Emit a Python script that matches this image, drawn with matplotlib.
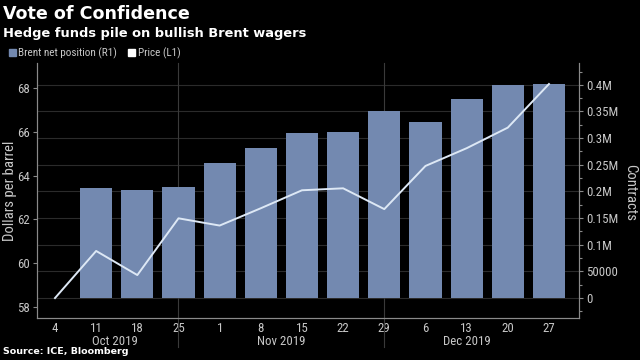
import numpy as np
import matplotlib
matplotlib.use("Agg")
import matplotlib.pyplot as plt
from matplotlib.patches import Patch
from matplotlib.font_manager import FontProperties
from matplotlib.ticker import FixedLocator, FuncFormatter

# weekly data, Oct 4 - Dec 27 2019
days = ['4', '11', '18', '25', '1', '8', '15', '22', '29', '6', '13', '20', '27']
months = ['Oct 2019', 'Nov 2019', 'Dec 2019']
month_pos = [1.45, 5.5, 10.0]
separators = [3, 8]
price = [58.41, 60.56, 59.46, 62.05, 61.72, 62.51, 63.33, 63.42, 62.47, 64.44, 65.25, 66.19, 68.18]
net_pos = [np.nan, 206000, 203000, 208000, 254000, 282000, 310500, 311000,
           350000, 331000, 373000, 399000, 402000]

BG = 'black'
BAR = '#7389b0'
LINE = '#dde8f5'
TXT = '#c8c8c8'
GRID = '#2b2b2b'
SPINE = '#8a8a8a'
NARROW = ['Roboto Condensed', 'DejaVu Sans']

def nfont(size):
    return FontProperties(family=NARROW, size=size)

fig = plt.figure(figsize=(6.4, 3.6), dpi=100, facecolor=BG)
ax_r = fig.add_axes([37/640, 1-318/360, (579-37)/640, (318-63)/360])
ax_r.set_facecolor(BG)
ax_l = ax_r.twinx()
x = np.arange(len(days))

# bars -> right axis (R1)
ax_r.bar(x, net_pos, width=0.78, color=BAR, zorder=2)
ax_r.set_ylim(-37600, 441000)
ax_r.set_yticks(np.arange(0, 400001, 50000))
ax_r.yaxis.set_minor_locator(FixedLocator(np.arange(-25000, 440000, 50000)))

def fmt_r(v, pos):
    if v == 0:
        return '0'
    if v == 50000:
        return '50000'
    return ('%g' % (v / 1e6)) + 'M'

ax_r.yaxis.set_major_formatter(FuncFormatter(fmt_r))
ax_r.grid(axis='y', color=GRID, linewidth=0.8, zorder=0)
ax_r.set_axisbelow(True)

# price -> left axis (L1)
ax_l.plot(x, price, color=LINE, linewidth=1.4, zorder=3)
ax_l.set_ylim(57.5, 69.14)
ax_l.set_yticks([58, 60, 62, 64, 66, 68])

# swap sides after twinx
ax_r.yaxis.tick_right()
ax_l.yaxis.tick_left()

# axis titles
fig.text(10/640, 1-191/360, 'Dollars per barrel', rotation=90, ha='center', va='center',
         color=TXT, fontproperties=nfont(10.6))
fig.text(630/640, 1-192/360, 'Contracts', rotation=270, ha='center', va='center',
         color=TXT, fontproperties=nfont(10.6))

ax_r.set_xlim(-0.437, 12.73)
ax_r.set_xticks(x)
ax_r.set_xticklabels(days)

for a in (ax_r, ax_l):
    a.tick_params(colors=SPINE, labelcolor=TXT, labelsize=9.3, length=3, width=0.8)
    a.tick_params(which='minor', colors=SPINE, length=2, width=0.8)
    a.spines['top'].set_visible(False)
    for s in ('left', 'right', 'bottom'):
        a.spines[s].set_color(SPINE)
        a.spines[s].set_linewidth(0.8)
    for lab in a.get_xticklabels() + a.get_yticklabels():
        lab.set_family(NARROW)
ax_r.tick_params(axis='x', length=0, pad=3)
ax_r.tick_params(axis='y', pad=2)
ax_l.tick_params(axis='y', pad=2)

# month labels and separators
trans = ax_r.get_xaxis_transform()
for m, p in zip(months, month_pos):
    ax_r.text(p, -0.092, m, transform=trans, ha='center', va='center',
              color=TXT, fontproperties=nfont(9.3))
for s in separators:
    ax_r.plot([s, s], [-0.115, 1.0], transform=trans, color='#3a3a3a',
              linewidth=0.8, clip_on=False, zorder=1)

# titles
fig.text(0.004, 1-14/360, 'Vote of Confidence', color='white', fontsize=12.6,
         fontweight='bold', ha='left', va='center')
fig.text(0.004, 1-33/360, 'Hedge funds pile on bullish Brent wagers', color='white',
         fontsize=9.4, fontweight='bold', ha='left', va='center')
fig.text(0.004, 1-352/360, 'Source: ICE, Bloomberg', color='white', fontsize=6.8,
         fontweight='bold', ha='left', va='center')

handles = [Patch(color=BAR, label='Brent net position (R1)'),
           Patch(color='white', label='Price (L1)')]
leg = fig.legend(handles=handles, loc='center left', bbox_to_anchor=(0.007, 1-53/360),
                 ncol=2, frameon=False, handlelength=0.6, handleheight=0.6,
                 handletextpad=0.25, columnspacing=1.0, borderaxespad=0,
                 prop=nfont(8))
for t in leg.get_texts():
    t.set_color(TXT)

fig.savefig('out.png', dpi=100, facecolor=BG)
